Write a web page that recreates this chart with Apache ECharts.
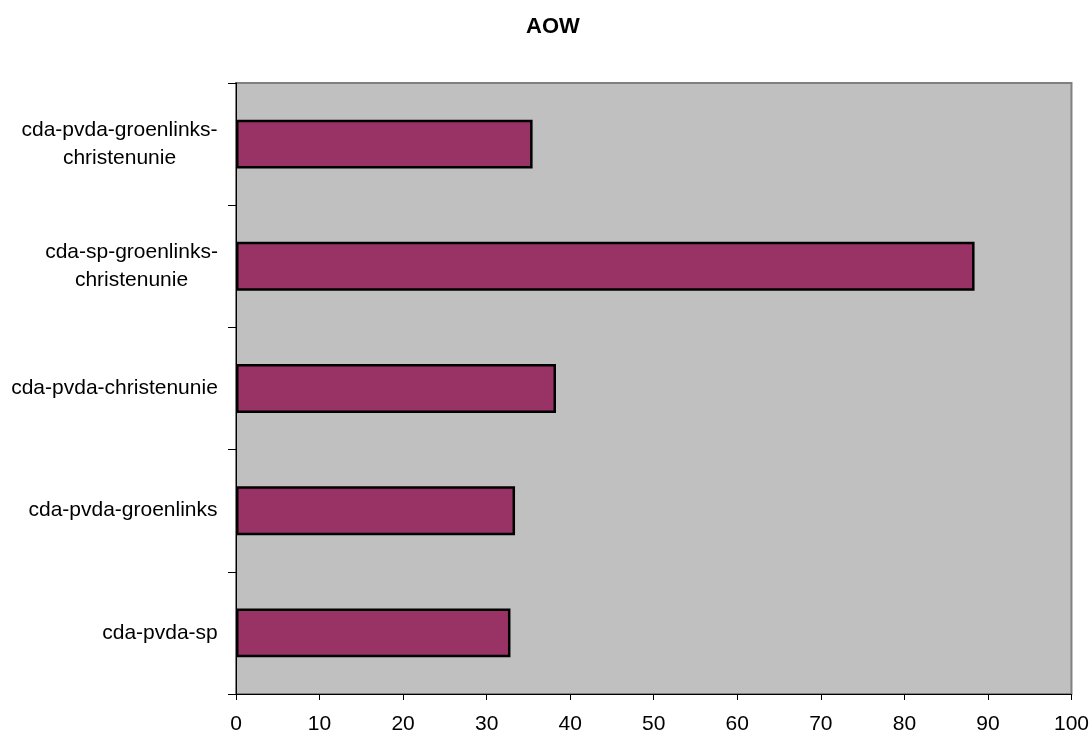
<!DOCTYPE html>
<html>
<head>
<meta charset="utf-8">
<script src="https://cdn.jsdelivr.net/npm/echarts@6/dist/echarts.min.js"></script>
<style>
html,body{margin:0;padding:0;background:#fff;}
#chart{width:1092px;height:736px;}
</style>
</head>
<body>
<div id="chart"></div>
<script>
// Categories listed bottom to top
var categories = [
  "cda-pvda-sp",
  "cda-pvda-groenlinks",
  "cda-pvda-christenunie",
  "cda-sp-groenlinks-\nchristenunie",
  "cda-pvda-groenlinks-\nchristenunie"
];
var values = [32.85, 33.4, 38.3, 88.4, 35.5];
var xTicks = { min: 0, max: 100, interval: 10 };
var titleText = "AOW";

var FONT = 'Liberation Sans, Arial, sans-serif';
var LABEL_SIZE = 21;

// Build rich styles so multi-line labels are centred within their own block
var cv = document.createElement('canvas').getContext('2d');
cv.font = LABEL_SIZE + 'px ' + FONT;
var rich = {};
categories.forEach(function (c, i) {
  var lines = c.split('\n');
  var w = 0;
  lines.forEach(function (l) { w = Math.max(w, cv.measureText(l).width); });
  rich['w' + i] = { width: Math.ceil(w), align: 'center', fontSize: LABEL_SIZE, lineHeight: 28, color: '#000', fontFamily: FONT };
});

var chart = echarts.init(document.getElementById('chart'));
chart.setOption({
  animation: false,
  backgroundColor: '#ffffff',
  textStyle: { fontFamily: FONT },
  title: {
    text: titleText,
    left: 548,
    textAlign: 'center',
    top: 11,
    textStyle: { fontSize: 22, fontWeight: 'bold', color: '#000', fontFamily: FONT }
  },
  grid: {
    left: 236, right: 20, top: 83, bottom: 42,
    show: true,
    backgroundColor: '#C0C0C0',
    borderColor: '#808080',
    borderWidth: 2
  },
  xAxis: {
    type: 'value',
    min: xTicks.min, max: xTicks.max, interval: xTicks.interval,
    axisLine: { show: true, onZero: false, lineStyle: { color: '#000', width: 1 } },
    axisTick: { show: true, length: 6, lineStyle: { color: '#000' } },
    splitLine: { show: false },
    axisLabel: { fontSize: LABEL_SIZE, color: '#000', margin: 20, fontFamily: FONT }
  },
  yAxis: {
    type: 'category',
    data: categories,
    axisLine: { show: true, lineStyle: { color: '#000', width: 1 } },
    axisTick: { show: true, length: 8, alignWithLabel: false, lineStyle: { color: '#000' } },
    splitLine: { show: false },
    axisLabel: {
      fontSize: LABEL_SIZE, color: '#000', margin: 18, lineHeight: 28, align: 'right', fontFamily: FONT,
      rich: rich,
      formatter: function (value, index) {
        var i = categories.indexOf(value);
        if (i < 0) i = index;
        return value.split('\n').map(function (l) { return '{w' + i + '|' + l + '}'; }).join('\n');
      }
    }
  },
  series: [{
    type: 'bar',
    data: values,
    barWidth: '40%',
    itemStyle: { color: '#993366', borderColor: '#000', borderWidth: 2.5 },
    silent: true
  }]
});
</script>
</body>
</html>
